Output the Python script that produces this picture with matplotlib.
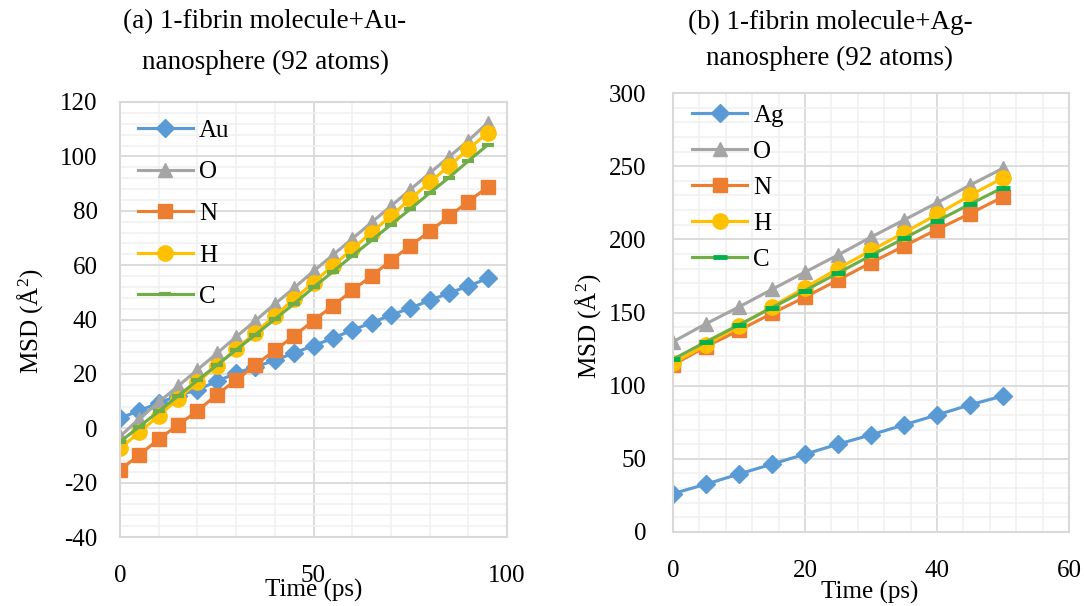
import matplotlib
matplotlib.use("Agg")
import matplotlib.pyplot as plt
from matplotlib.ticker import MultipleLocator

plt.rcParams['font.family'] = ['Liberation Serif', 'DejaVu Serif']
plt.rcParams['mathtext.fontset'] = 'custom'
plt.rcParams['mathtext.rm'] = 'Liberation Serif'
plt.rcParams['mathtext.it'] = 'Liberation Serif:italic'
plt.rcParams['axes.unicode_minus'] = False

# ---- Data: panel (a) Au nanosphere ----
time_a = [0, 5, 10, 15, 20, 25, 30, 35, 40, 45, 50, 55, 60, 65, 70, 75, 80, 85, 90, 95]
au_a = [3.7, 6.5, 9.3, 12.0, 14.2, 17.2, 20.3, 22.6, 25.0, 27.7, 30.4, 33.1, 36.1, 38.8, 41.6, 44.2, 47.0, 49.7, 52.3, 55.1]
o_a = [-3.0, 3.5, 9.6, 15.5, 21.5, 27.5, 33.6, 39.6, 45.7, 51.6, 57.8, 63.7, 69.7, 75.7, 81.7, 87.8, 93.8, 99.8, 105.8, 112.3]
n_a = [-15.3, -9.8, -4.0, 1.2, 6.4, 12.3, 17.8, 23.3, 28.6, 34.0, 39.6, 45.0, 50.7, 56.0, 61.7, 67.1, 72.4, 77.9, 83.4, 88.7]
h_a = [-7.4, -1.5, 4.6, 10.8, 16.9, 23.0, 29.1, 35.2, 41.4, 47.5, 53.6, 59.8, 65.9, 72.0, 78.1, 84.3, 90.4, 96.5, 102.6, 108.7]
c_a = [-5.0, 0.6, 6.2, 11.9, 17.6, 23.2, 28.8, 34.4, 40.1, 45.8, 51.8, 57.6, 63.4, 69.1, 74.9, 80.6, 86.5, 92.2, 98.3, 104.2]

# ---- Data: panel (b) Ag nanosphere ----
time_b = [0, 5, 10, 15, 20, 25, 30, 35, 40, 45, 50]
ag_b = [26.2, 32.7, 39.6, 46.4, 53.2, 60.0, 66.4, 73.2, 80.0, 86.9, 93.0]
o_b = [130.0, 142.3, 153.8, 165.8, 177.6, 189.3, 201.5, 213.2, 225.0, 237.0, 248.6]
n_b = [114.2, 126.7, 137.8, 149.4, 160.5, 172.2, 184.0, 195.4, 206.7, 217.6, 229.0]
h_b = [115.3, 127.8, 140.8, 154.0, 167.0, 180.0, 192.4, 204.5, 217.0, 230.0, 242.0]
c_b = [118.0, 130.0, 141.6, 153.3, 165.0, 177.0, 189.0, 200.6, 212.5, 224.0, 235.4]

titles = [["(a) 1-fibrin molecule+Au-", "nanosphere (92 atoms)"],
          ["(b) 1-fibrin molecule+Ag-", "nanosphere (92 atoms)"]]

BLUE = '#5B9BD5'
GRAY = '#A5A5A5'
ORANGE = '#ED7D31'
YELLOW = '#FFC000'
GREEN = '#70AD47'
DKGREEN = '#00B050'

FS = 18
TFS = 19.5

fig = plt.figure(figsize=(10.84, 6.06), dpi=100)
W, H = 1084, 606

def add_axes(l, t, r, b):
    return fig.add_axes([l / W, 1 - b / H, (r - l) / W, (b - t) / H])

axA = add_axes(120, 102, 507, 537)
axB = add_axes(673, 93, 1069, 532)

def style(ax, xlim, ylim, xmaj, xmin, ymaj, ymin, xpad, ypad):
    ax.set_xlim(*xlim)
    ax.set_ylim(*ylim)
    ax.xaxis.set_major_locator(MultipleLocator(xmaj))
    ax.xaxis.set_minor_locator(MultipleLocator(xmin))
    ax.yaxis.set_major_locator(MultipleLocator(ymaj))
    ax.yaxis.set_minor_locator(MultipleLocator(ymin))
    ax.grid(which='major', color='#D9D9D9', lw=1.3, zorder=0)
    ax.grid(which='minor', color='#F0F0F0', lw=1.1, zorder=0)
    ax.set_axisbelow(True)
    for s in ax.spines.values():
        s.set_color('#D9D9D9')
        s.set_linewidth(1.5)
    ax.tick_params(which='both', length=0, labelsize=FS)
    ax.tick_params(axis='x', pad=xpad)
    ax.tick_params(axis='y', pad=ypad)

style(axA, (0, 100), (-40, 120), 50, 10, 20, 4, 20, 16)
style(axB, (0, 60), (0, 300), 20, 4, 50, 10, 20, 19)

lw = 2.25
# Panel A
axA.plot(time_a, au_a, color=BLUE, lw=lw, marker='D', ms=9.5, label='Au')
axA.plot(time_a, o_a, color=GRAY, lw=lw, marker='^', ms=10, label='O')
axA.plot(time_a, n_a, color=ORANGE, lw=lw, marker='s', ms=10, label='N')
axA.plot(time_a, h_a, color=YELLOW, lw=lw, marker='o', ms=11, label='H')
axA.plot(time_a, c_a, color=GREEN, lw=lw, marker='_', ms=9, mew=3, label='C')

# Panel B
axB.plot(time_b, ag_b, color=BLUE, lw=lw, marker='D', ms=9.5, label='Ag')
axB.plot(time_b, o_b, color=GRAY, lw=lw, marker='^', ms=10, label='O')
axB.plot(time_b, n_b, color=ORANGE, lw=lw, marker='s', ms=10, label='N')
axB.plot(time_b, h_b, color=YELLOW, lw=lw, marker='o', ms=11, label='H')
axB.plot(time_b, c_b, color=GREEN, lw=lw, marker='_', ms=10, mew=3.5,
         mec=DKGREEN, label='C')

legA = axA.legend(loc='upper left', bbox_to_anchor=(0.0, 1.0), frameon=False,
                  fontsize=FS, handlelength=2.2, handletextpad=0.25,
                  labelspacing=0.76, borderaxespad=0.3, borderpad=0.4)
legB = axB.legend(loc='upper left', bbox_to_anchor=(0.02, 1.0), frameon=False,
                  fontsize=FS, handlelength=2.2, handletextpad=0.25,
                  labelspacing=0.54, borderaxespad=0.3, borderpad=0.15)

ylab = r'MSD (Å$^{2}$)'
axA.set_ylabel(ylab, fontsize=FS)
axA.yaxis.set_label_coords((30 - 120) / 387, (537 - 321) / 435)
axA.yaxis.label.set_va('center')
axB.set_ylabel(ylab, fontsize=FS)
axB.yaxis.set_label_coords((588 - 673) / 396, (532 - 326) / 439)
axB.yaxis.label.set_va('center')

axA.set_xlabel('Time (ps)', fontsize=FS)
axA.xaxis.set_label_coords(0.5, (537 - 590) / 435)
axA.xaxis.label.set_va('center')
axB.set_xlabel('Time (ps)', fontsize=FS)
axB.xaxis.set_label_coords((870 - 673) / 396, (532 - 592) / 439)
axB.xaxis.label.set_va('center')

fig.text(265 / W, 1 - 22 / H, titles[0][0], fontsize=TFS, ha='center', va='center')
fig.text(265 / W, 1 - 62 / H, titles[0][1], fontsize=TFS, ha='center', va='center')
fig.text(830 / W, 1 - 22 / H, titles[1][0], fontsize=TFS, ha='center', va='center')
fig.text(830 / W, 1 - 58 / H, titles[1][1], fontsize=TFS, ha='center', va='center')

fig.savefig('out.png', dpi=100)
